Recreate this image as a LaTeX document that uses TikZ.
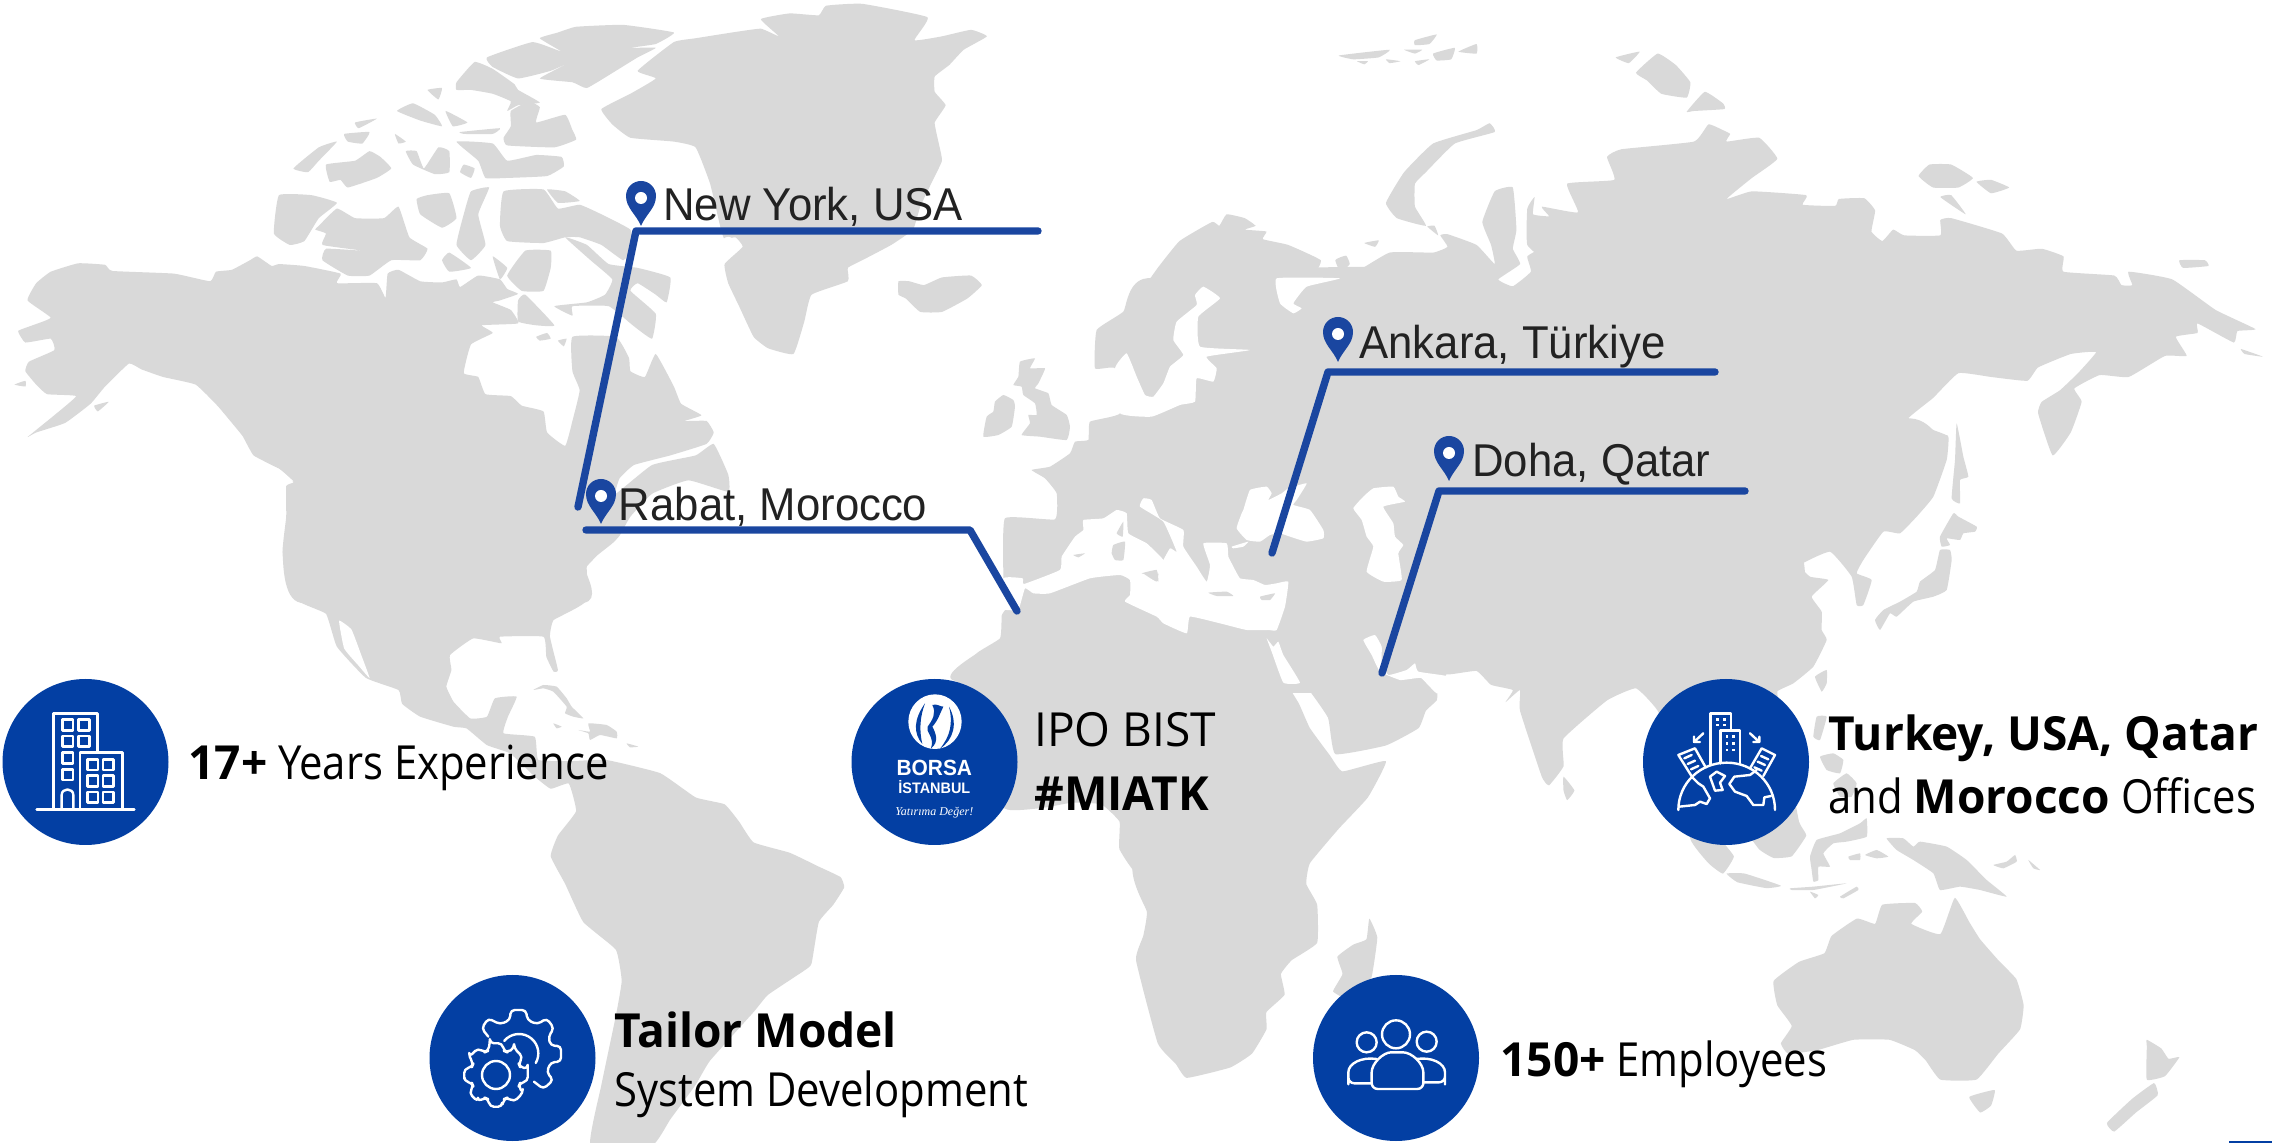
\documentclass[tikz,border=0pt]{standalone}
\usepackage{fontspec}
\setmainfont{Open Sans}
\newfontfamily\pinfont[FakeStretch=0.95]{Liberation Sans}
\newfontfamily\infofont[FakeStretch=0.89,BoldFeatures={FakeStretch=0.98}]{Open Sans}
\newfontfamily\capsfont[FakeStretch=0.98]{Open Sans}
\newfontfamily\logofont[FakeStretch=0.95]{Liberation Sans}
\newfontfamily\sloganfont{Liberation Serif}
\definecolor{landgray}{HTML}{D9D9D9}
\definecolor{discblue}{HTML}{033FA3}
\definecolor{lineblue}{HTML}{1A46A0}
\definecolor{labelink}{HTML}{222222}
\newcommand\landpoly[1]{\fill[land] plot[smooth cycle,tension=.22] coordinates {#1};}
\newcommand\seapoly[1]{\fill[sea] plot[smooth cycle,tension=.22] coordinates {#1};}
\tikzset{
  land/.style={fill=landgray},
  sea/.style={fill=white},
  fA/.style={xscale=.7246,yscale=.3827},
  fB/.style={shift={(1136,0)},xscale=.7246,yscale=.3827},
  fC/.style={shift={(0,600)},xscale=.7246,yscale=.3463},
  fD/.style={shift={(1136,600)},xscale=.7246,yscale=.3463},
  fE/.style={shift={(960,280)},scale=.33333},
  fF/.style={shift={(420,620)},scale=.33333},
  fG/.style={shift={(1700,420)},scale=.33333},
  route/.style={draw=lineblue,line width=3.7pt,line cap=round,line join=round},
  disc/.style={circle,fill=discblue,inner sep=0pt,minimum size=83pt},
  pinlabel/.style={anchor=base west,inner sep=0pt,text=labelink,font=\pinfont\fontsize{23}{23}\selectfont},
  info/.style={anchor=base west,inner sep=0pt,text=black,font=\infofont\fontsize{23.5}{23.5}\selectfont},
  icon/.style={draw=white,line width=1.2pt,line join=round,line cap=round},
  mappin/.pic={
    \fill[lineblue] (0,45) .. controls (-5,33) and (-15,27) .. (-15,15) .. controls (-15,6.7) and (-8.3,0) .. (0,0) .. controls (8.3,0) and (15,6.7) .. (15,15) .. controls (15,27) and (5,33) .. (0,45) -- cycle;
    \fill[white] (0,17) circle (6);
  }
}
\begin{document}
\begin{tikzpicture}[x=.5pt,y=-.5pt]
\path[use as bounding box,fill=white] (0,0) rectangle (2272,1143);
% ---------- land, frame of the north-west
\begin{scope}[fA]
\landpoly{(108,688)(145,692)(155,708)(240,715)(290,735)(298,710)(320,705)(345,680)(355,670)(375,695)(385,690)(420,695)(470,715)(465,740)(520,740)(532,778)(535,715)(550,705)(580,735)(610,738)(630,730)(635,750)(660,720)(690,730)(700,755)(715,768)(690,785)(680,790)(705,810)(715,845)(665,850)(680,870)(650,900)(640,975)(660,985)(670,1030)(705,1035)(720,1060)(750,1075)(755,1130)(780,1165)(790,1100)(800,1020)(790,970)(790,880)(850,880)(868,935)(870,970)(890,985)(905,925)(930,1010)(940,1055)(968,1085)(945,1100)(975,1100)(985,1130)(975,1160)(925,1190)(875,1215)(855,1250)(850,1290)(900,1215)(960,1190)(985,1160)(1005,1240)(1005,1285)(950,1255)(900,1290)(870,1350)(855,1400)(845,1420)(825,1450)(810,1480)(810,1500)(805,1575)(415,1575)(390,1450)(395,1350)(395,1270)(405,1260)(385,1225)(350,1190)(335,1140)(320,1105)(300,1060)(270,1005)(225,985)(195,965)(178,950)(145,1010)(125,1055)(90,1105)(50,1130)(38,1142)(75,1085)(105,1035)(65,1030)(50,1005)(35,970)(40,945)(75,915)(70,885)(35,895)(25,865)(45,850)(70,830)(38,785)(50,740)(70,710)}
% Greenland
\landpoly{(830,285)(870,245)(905,205)(880,185)(930,110)(960,100)(1010,85)(1050,75)(1075,95)(1050,50)(1090,35)(1130,40)(1140,15)(1190,10)(1280,45)(1262,105)(1300,95)(1340,78)(1362,95)(1330,130)(1310,170)(1290,200)(1290,240)(1305,275)(1290,320)(1295,370)(1300,420)(1285,480)(1270,540)(1260,600)(1230,640)(1190,680)(1170,700)(1170,735)(1120,770)(1110,840)(1095,925)(1060,910)(1040,880)(1020,800)(1005,740)(1000,690)(1025,645)(1015,620)(1000,625)(995,600)(980,480)(960,385)(930,370)(870,360)(845,325)}
% Arctic islands
\landpoly{(672,150)(735,110)(775,135)(745,100)(770,85)(795,70)(860,65)(930,85)(905,115)(870,125)(905,125)(880,150)(850,185)(810,230)(790,215)(745,205)(790,160)(760,185)(715,205)(680,175)}
\landpoly{(630,215)(655,162)(680,180)(710,220)(715,235)(745,268)(715,275)(700,290)(705,265)(680,245)(650,235)(630,235)}
\landpoly{(705,290)(730,265)(745,280)(740,320)(780,300)(790,340)(795,365)(765,385)(700,380)(695,360)(705,330)}
\landpoly{(590,235)(610,230)(605,260)}
\landpoly{(548,290)(570,270)(600,300)(610,330)(580,315)}
\landpoly{(615,290)(645,320)(625,330)}
\landpoly{(635,345)(690,335)(680,350)(640,350)}
\landpoly{(630,370)(680,375)(700,420)(740,405)(775,410)(778,435)(755,460)(700,465)(670,465)(660,420)}
\landpoly{(640,430)(655,440)(650,465)(635,450)}
\landpoly{(405,440)(440,385)(465,370)(440,420)(425,450)}
\landpoly{(450,430)(490,420)(510,395)(525,410)(540,440)(520,465)(480,490)(470,470)(455,475)}
\landpoly{(560,395)(575,395)(585,440)(605,385)(620,395)(620,450)(600,455)(570,430)}
\landpoly{(490,320)(520,310)(495,335)}
\landpoly{(475,350)(510,345)(500,375)(480,370)}
\landpoly{(545,350)(560,370)(550,375)}
\landpoly{(385,510)(430,510)(465,530)(440,570)(420,630)(400,640)(378,610)}
\landpoly{(440,590)(465,545)(490,570)(530,570)(550,540)(565,620)(590,650)(580,680)(540,680)(510,720)(480,720)(445,680)(450,650)(500,655)(445,640)(450,610)(435,600)}
\landpoly{(590,510)(620,505)(630,570)(610,595)(580,560)(575,520)}
\landpoly{(640,560)(650,500)(675,490)(660,560)(670,640)(650,680)(630,640)}
\landpoly{(690,590)(695,500)(750,495)(770,545)(800,535)(830,560)(870,600)(873,650)(860,680)(830,640)(800,620)(780,620)(750,635)(700,630)}
\landpoly{(755,495)(780,500)(800,525)(770,530)}
\landpoly{(610,680)(620,660)(650,700)(620,710)}
\landpoly{(725,655)(760,655)(760,700)(750,760)(720,760)(700,720)}
\landpoly{(680,670)(700,700)(690,730)}
\landpoly{(780,620)(810,640)(840,690)(880,700)(925,725)(920,790)(905,770)(880,740)(870,760)(905,820)(900,885)(880,860)(870,845)(840,800)(790,800)(790,825)(765,800)(810,790)(835,770)(845,730)(815,680)}
\landpoly{(715,785)(725,770)(765,850)(740,850)(715,840)}
\landpoly{(740,880)(755,870)(760,885)(745,890)}
\landpoly{(770,890)(782,885)(778,905)}
\landpoly{(20,1005)(35,995)(35,1010)}
\landpoly{(130,1060)(150,1050)(135,1075)}
\landpoly{(1240,735)(1255,735)(1275,745)(1300,725)(1340,720)(1355,745)(1335,780)(1300,815)(1270,815)(1250,780)(1240,770)}
\end{scope}
% ---------- the Americas, south
\begin{scope}[fC]
\landpoly{(415,-5)(450,40)(465,135)(505,225)(550,260)(555,300)(580,337)(626,366)(644,371)(672,419)(704,443)(738,510)(760,545)(785,530)(795,610)(770,680)(760,740)(780,820)(805,930)(850,1010)(858,1100)(850,1200)(830,1400)(815,1575)(900,1575)(925,1500)(960,1400)(980,1330)(1040,1190)(1060,1140)(1110,1070)(1120,1050)(1130,930)(1150,880)(1165,830)(1160,800)(1130,770)(1090,730)(1040,700)(1020,640)(1000,590)(960,570)(911,500)(837,462)(790,465)(743,462)(738,395)(695,385)(701,337)(713,279)(683,284)(672,337)(649,342)(626,294)(616,250)(623,202)(621,159)(653,111)(692,125)(690,106)(750,106)(754,164)(764,207)(770,202)(759,106)(764,58)(805,-5)}
\seapoly{(468,60)(485,85)(497,150)(510,225)(495,190)(475,140)}
\landpoly{(1320,235)(1310,300)(1300,500)(1390,605)(1440,600)(1480,585)(1520,590)(1545,640)(1545,720)(1575,790)(1575,230)}
\end{scope}
\begin{scope}[fF]
\landpoly{(340,210)(370,195)(410,200)(440,235)(455,260)(490,295)(460,290)(435,280)(440,260)(400,215)(370,205)}
\landpoly{(505,310)(560,315)(590,335)(590,355)(540,345)(510,360)(505,340)(475,330)(510,335)}
\landpoly{(400,310)(425,320)(410,325)}
\landpoly{(620,370)(655,380)(630,382)}
\end{scope}
% ---------- Eurasia, north
\begin{scope}[fB]
\landpoly{(0,780)(30,700)(60,630)(105,580)(115,590)(125,560)(150,570)(165,590)(150,600)(180,605)(175,625)(210,640)(255,680)(245,720)(225,735)(195,710)(180,710)(200,760)(200,810)(215,820)(240,790)(250,745)(285,735)(275,680)(290,668)(295,690)(285,710)(300,715)(350,660)(410,660)(430,645)(420,615)(430,612)(470,640)(495,690)(490,640)(478,580)(495,500)(520,490)(525,600)(520,650)(530,690)(500,730)(520,748)(545,710)(540,670)(560,650)(570,690)(540,640)(540,545)(550,515)(548,560)(570,565)(560,540)(610,555)(595,480)(660,470)(650,410)(670,390)(770,370)(790,325)(810,340)(820,350)(815,370)(860,360)(885,415)(850,465)(815,520)(850,500)(925,510)(920,535)(965,538)(970,520)(1005,518)(1020,550)(1015,605)(1030,630)(1045,600)(1060,615)(1110,615)(1110,575)(1125,570)(1195,610)(1215,655)(1250,650)(1280,670)(1280,710)(1350,720)(1360,745)(1375,745)(1370,710)(1430,730)(1490,810)(1545,860)(1520,865)(1515,895)(1465,845)(1465,870)(1435,880)(1450,930)(1420,930)(1370,985)(1330,980)(1295,1015)(1305,1050)(1290,1130)(1265,1190)(1245,1080)(1250,1050)(1275,1020)(1300,975)(1325,920)(1290,925)(1245,960)(1230,995)(1180,985)(1135,975)(1100,1040)(1065,1095)(1090,1130)(1120,1140)(1000,1200)(900,1300)(900,1570)(-5,1570)(-5,780)}
\landpoly{(280,145)(350,130)(335,150)(300,155)}
\landpoly{(370,130)(395,130)(385,140)}
\landpoly{(385,105)(415,90)(405,115)(385,118)}
\landpoly{(410,140)(440,125)(435,155)(415,158)}
\landpoly{(445,135)(470,115)(470,140)}
\landpoly{(345,155)(365,160)(350,165)}
\landpoly{(385,160)(405,155)(390,170)}
\landpoly{(305,160)(320,160)(315,168)}
\landpoly{(345,530)(370,450)(410,375)(470,340)(488,322)(495,345)(440,375)(400,450)(385,480)(385,540)(400,590)(360,570)}
\landpoly{(315,635)(335,628)(330,645)}
\landpoly{(402,592)(412,590)(417,615)}
\landpoly{(662,150)(695,135)(680,165)}
\landpoly{(690,190)(720,140)(745,170)(765,215)(760,255)(725,245)(705,210)}
\landpoly{(760,292)(785,240)(810,270)(812,285)(770,290)}
\landpoly{(1080,460)(1095,430)(1125,430)(1155,465)(1135,490)(1100,490)}
\landpoly{(1160,475)(1180,470)(1205,490)(1180,505)}
\landpoly{(1110,515)(1125,510)(1145,560)}
\landpoly{(1440,680)(1475,680)(1480,695)(1445,700)}
\landpoly{(1525,912)(1555,932)(1530,925)}
\end{scope}
% ---------- Europe
\begin{scope}[fE]
\landpoly{(560,-5)(490,95)(410,150)(405,265)(465,265)(480,400)(390,425)(385,480)(345,485)(330,520)(270,560)(215,570)(255,595)(290,640)(285,718)(135,715)(130,895)(125,1010)(120,1075)(50,1120)(0,1205)(1445,1205)(1445,-5)}
\landpoly{(70,470)(80,410)(100,395)(105,365)(130,345)(160,360)(165,380)(155,440)(115,465)}
\landpoly{(160,315)(175,290)(180,245)(225,235)(210,265)(255,265)(235,310)(225,325)(265,340)(275,375)(320,405)(330,440)(320,480)(240,470)(185,465)(210,430)(205,405)(230,405)(225,370)(190,345)(185,320)}
\end{scope}
% ---------- Asia south, Africa east, islands
\begin{scope}[fD]
\landpoly{(205,-5)(205,200)(235,250)(265,340)(275,445)(345,420)(390,370)(400,320)(415,290)(415,265)(390,220)(380,195)(430,215)(470,205)(490,245)(520,260)(510,295)(530,260)(530,320)(560,510)(570,535)(590,480)(590,400)(650,290)(690,255)(720,320)(760,500)(765,690)(790,760)(810,790)(825,740)(800,670)(830,640)(860,720)(880,745)(905,740)(925,680)(915,640)(900,470)(885,266)(900,100)(900,-5)}
\landpoly{(-5,780)(15,900)(10,970)(0,1040)(30,1280)(55,1340)(70,1380)(130,1350)(160,1310)(180,1240)(180,1190)(205,1140)(200,1080)(215,1040)(250,990)(250,880)(235,820)(240,760)(280,660)(320,570)(345,465)(285,495)(268,450)(240,370)(225,300)(205,230)(180,110)(-5,100)}
\landpoly{(590,510)(605,550)(595,578)(590,550)}
\landpoly{(322,920)(333,975)(325,1090)(310,1110)(290,1150)(272,1130)(285,1080)(278,1030)(300,995)(318,980)}
\landpoly{(815,790)(840,790)(890,825)(870,832)(830,815)}
\landpoly{(880,1100)(915,1045)(950,1020)(960,970)(995,920)(1020,935)(1030,880)(1075,875)(1085,900)(1070,935)(1110,965)(1130,860)(1150,930)(1165,980)(1190,1040)(1215,1095)(1225,1170)(1220,1240)(1190,1310)(1160,1385)(1110,1385)(1090,1330)(1075,1300)(1040,1270)(990,1270)(940,1300)(900,1310)(890,1280)(905,1230)(885,1170)}
\landpoly{(1150,1435)(1185,1415)(1180,1460)(1165,1480)}
\landpoly{(1395,1270)(1415,1295)(1425,1325)(1440,1320)(1420,1375)(1395,1385)(1395,1290)}
\landpoly{(1340,1510)(1375,1440)(1405,1395)(1410,1430)(1380,1480)(1350,1535)}
\end{scope}
% ---------- East Asia
\begin{scope}[fG]
\landpoly{(630,-5)(700,30)(745,50)(740,120)(700,230)(650,290)(600,340)(550,335)(490,420)(470,460)(515,480)(490,555)(470,555)(455,470)(390,395)(300,435)(330,470)(385,480)(335,530)(365,575)(365,630)(380,660)(340,740)(280,790)(230,815)(150,900)(100,1000)(-5,1000)(-5,-5)}
\landpoly{(770,10)(790,110)(805,170)(780,180)(780,250)(755,235)(765,120)}
\landpoly{(720,350)(760,280)(775,290)(830,320)(825,335)(790,340)(780,360)(740,355)(750,375)(725,380)}
\landpoly{(525,600)(550,570)(600,545)(650,515)(660,485)(705,450)(720,390)(750,390)(755,420)(740,510)(700,530)(640,545)(590,590)(570,580)(540,630)}
\landpoly{(345,770)(380,750)(380,790)(365,815)}
\landpoly{(350,890)(380,890)(360,960)(340,950)}
\landpoly{(360,1010)(400,1000)(430,1020)(420,1060)(380,1050)}
\landpoly{(400,1090)(440,1060)(470,1090)(455,1130)(420,1130)}
\landpoly{(330,1310)(350,1260)(420,1240)(480,1210)(500,1195)(500,1250)(440,1265)(400,1270)(370,1300)(390,1340)(355,1340)(355,1380)(340,1385)(335,1350)}
\landpoly{(560,1255)(610,1255)(640,1280)(660,1265)(740,1280)(800,1320)(860,1380)(920,1430)(840,1410)(780,1400)(720,1410)(700,1360)(640,1320)(590,1290)}
\landpoly{(445,1310)(480,1300)(480,1320)(450,1320)}
\landpoly{(495,1305)(530,1290)(565,1310)(530,1315)}
\landpoly{(880,1335)(920,1325)(945,1305)(950,1325)(910,1345)}
\landpoly{(985,1320)(1020,1350)(1000,1345)}
\landpoly{(270,1405)(340,1400)(440,1390)(340,1410)(275,1410)}
\landpoly{(420,1430)(470,1400)(475,1410)(430,1435)}
\landpoly{(330,1415)(355,1425)(345,1435)}
\end{scope}
% ---------- seas and gaps painted over the land
\begin{scope}[fA]
\seapoly{(315,1125)(328,1125)(330,1170)(320,1160)}
\seapoly{(350,1200)(385,1225)(405,1258)(385,1240)(355,1215)}
\fill[sea] (1005,635) ellipse (9 and 16);
\fill[sea] (808,722) ellipse (9 and 24);
\end{scope}
\begin{scope}[fE]
% Baltic
\seapoly{(465,265)(500,220)(530,290)(555,345)(580,350)(610,310)(630,260)(670,225)(640,180)(650,125)(710,75)(705,45)(730,20)(780,55)(715,110)(720,200)(870,210)(740,230)(770,265)(760,305)(710,295)(705,365)(660,375)(575,410)(480,400)}
% White Sea
\seapoly{(950,-5)(960,70)(1000,100)(1025,85)(1000,70)(1040,20)(1140,-5)}
% Mediterranean
\seapoly{(130,895)(188,895)(192,912)(300,870)(305,830)(345,770)(370,750)(370,720)(430,715)(470,690)(500,700)(505,760)(560,790)(610,840)(600,880)(550,880)(590,905)(600,860)(630,805)(650,815)(610,725)(540,680)(550,655)(575,660)(600,715)(670,750)(670,800)(710,860)(740,905)(750,855)(730,790)(800,790)(805,830)(815,850)(840,895)(880,900)(915,915)(950,910)(985,905)(975,980)(950,1050)(925,1050)(860,1050)(780,1030)(690,1010)(680,1060)(610,1030)(590,1010)(495,965)(510,945)(510,900)(480,885)(390,895)(270,940)(220,940)(195,925)(175,990)(135,990)(120,1010)}
\landpoly{(460,795)(495,785)(490,840)(465,840)(455,820)}
\landpoly{(470,760)(490,725)(488,770)}
\landpoly{(340,825)(375,820)(355,832)}
\landpoly{(545,880)(590,870)(595,905)(570,885)}
\landpoly{(745,938)(800,935)(820,948)(770,948)}
\landpoly{(900,950)(945,940)(930,960)(905,960)}
% Black Sea, Marmara, Caspian
\seapoly{(850,690)(870,630)(920,620)(935,640)(925,660)(965,640)(985,625)(1040,610)(1010,660)(1000,675)(1050,690)(1090,750)(1090,775)(1040,785)(990,770)(960,760)(930,765)(900,785)(860,780)(830,745)(845,700)}
\seapoly{(815,800)(865,785)(850,800)(820,805)}
\seapoly{(1180,685)(1210,650)(1240,625)(1300,620)(1315,650)(1335,665)(1270,680)(1300,730)(1305,770)(1330,795)(1315,820)(1325,900)(1270,905)(1220,875)(1240,800)(1220,770)(1205,720)}
% Red Sea and Gulf
\seapoly{(920,1075)(940,1100)(955,1085)(970,1125)(1020,1208)(970,1208)(935,1115)}
\seapoly{(1210,1080)(1245,1065)(1265,1100)(1265,1150)(1285,1185)(1340,1170)(1365,1150)(1375,1175)(1470,1190)(1470,1225)(1430,1240)(1385,1195)(1365,1195)(1320,1200)(1260,1175)(1235,1125)}
\end{scope}
% ---------- routes
\coordinate (nyfoot) at (578,507);
\coordinate (nybend) at (636,231);
\coordinate (nyend) at (1038,231);
\coordinate (rbfoot) at (1017,611);
\coordinate (rbbend) at (970,530);
\coordinate (rbend) at (586,530);
\coordinate (anfoot) at (1272,553);
\coordinate (anbend) at (1328,372);
\coordinate (anend) at (1715,372);
\coordinate (dofoot) at (1382,673);
\coordinate (dobend) at (1439,491);
\coordinate (doend) at (1745,491);
\draw[route] (nyfoot) -- (nybend) -- (nyend);
\draw[route] (rbfoot) -- (rbbend) -- (rbend);
\draw[route] (anfoot) -- (anbend) -- (anend);
\draw[route] (dofoot) -- (dobend) -- (doend);
% ---------- pins and labels
\pic at (641,181) {mappin};
\pic at (601,479) {mappin};
\pic at (1338,317) {mappin};
\pic at (1449,436) {mappin};
\node[pinlabel] (lny) at (663,221) {New York, USA};
\node[pinlabel] (lrb) at (618.5,521) {Rabat, Morocco};
\node[pinlabel] (lan) at (1359,359) {Ankara, Türkiye};
\node[pinlabel] (ldo) at (1472,477) {Doha, Qatar};
% ---------- discs
\node[disc] (dbuild) at (85.5,762) {};
\node[disc] (dborsa) at (934.5,762) {};
\node[disc] (dglobe) at (1726,762) {};
\node[disc] (dgear) at (512.5,1058) {};
\node[disc] (dpeople) at (1396,1058) {};
% building icon
\begin{scope}[shift={(0,670)},scale=.33333]
\draw[icon] (110,418) -- (403,418);
\draw[icon] (160,415) -- (160,130) -- (293,130) -- (293,245);
\draw[icon] (240,415) -- (240,248) -- (368,248) -- (368,415);
\foreach \p in {(203,165),(252,165),(203,214),(252,214),(203,264),(203,314),(278,284),(325,284),(278,333),(325,333),(278,382),(325,382)}
  \draw[icon] \p ++(-16,-16) rectangle ++(32,32);
\draw[icon] (185,415) -- (185,375) .. controls (185,353) and (220,353) .. (220,375) -- (220,415);
\end{scope}
% Borsa logo
\begin{scope}[shift={(845,670)},scale=.33333]
\fill[white] (270,155) ellipse (80 and 82);
\fill[discblue] (240,100) .. controls (205,150) and (205,190) .. (232,222) .. controls (222,180) and (225,140) .. (240,100) -- cycle;
\fill[discblue] (262,105) .. controls (275,130) and (262,150) .. (248,170) .. controls (240,185) and (270,200) .. (258,235) .. controls (285,215) and (270,185) .. (262,170) .. controls (280,150) and (285,130) .. (295,110) .. controls (285,110) and (275,100) .. (262,105) -- cycle;
\fill[discblue] (312,110) .. controls (325,160) and (315,200) .. (285,236) .. controls (325,210) and (340,160) .. (312,110) -- cycle;
\node[inner sep=0pt,text=white,font=\logofont\bfseries\fontsize{11}{11}\selectfont] (tborsa) at (268,295) {BORSA};
\node[inner sep=0pt,text=white,font=\logofont\bfseries\fontsize{7.6}{7.6}\selectfont] (tist) at (268,352) {İSTANBUL};
\node[inner sep=0pt,text=white,font=\sloganfont\itshape\fontsize{6}{6}\selectfont] (tval) at (268,427) {Yatırıma Değer!};
\end{scope}
% globe icon
\begin{scope}[shift={(1635,670)},scale=.33333]
\draw[icon] (130,420) .. controls (130,340) and (195,278) .. (275,278) .. controls (355,278) and (420,340) .. (420,420);
\draw[icon] (133,410) -- (180,405) -- (195,395) -- (215,402) -- (225,385) -- (205,350) -- (190,340) -- (172,322);
\draw[icon] (225,320) -- (245,305) -- (270,318) -- (255,338) -- (263,360) -- (240,362) -- cycle;
\draw[icon] (408,378) -- (388,382) -- (385,405) -- (355,405) -- (335,378) -- (300,365) -- (283,342) -- (298,320) -- (345,315) -- (365,300);
\draw[icon] (227,285) -- (227,130) -- (288,130) -- (288,180);
\draw[icon] (257,280) -- (257,182) -- (315,182) -- (315,280);
\foreach \p in {(248,148),(268,148),(248,165),(268,165),(276,200),(296,200),(276,220),(296,220),(276,240),(296,240)}
  \fill[white] \p ++(-4,-4) rectangle ++(8,8);
\draw[icon] (172,322) -- (130,255) -- (180,235) -- (212,292);
\draw[icon] (148,265) -- (170,255) (158,282) -- (180,272) (168,298) -- (190,288);
\draw[icon] (345,295) -- (380,235) -- (420,255) -- (385,318);
\draw[icon] (378,258) -- (400,268) (368,275) -- (390,285) (358,292) -- (380,302);
\draw[icon] (205,190) -- (177,216) (177,200) -- (177,216) -- (195,216);
\draw[icon] (345,190) -- (373,216) (373,200) -- (373,216) -- (355,216);
\end{scope}
% gears icon
\begin{scope}[shift={(420,965)},scale=.33333]
\draw[icon,rounded corners=2pt] (205,215) -- (185,190) -- (205,160) -- (240,178) -- (270,165) -- (272,135) -- (318,135) -- (322,165) -- (352,178) -- (380,160) -- (402,190) -- (385,215) -- (392,242) -- (423,243) -- (423,290) -- (392,292) -- (380,322) -- (400,345) -- (370,372) -- (342,350);
\draw[icon] (297,265) ++(-140:58) arc[start angle=-140,end angle=30,radius=58];
\draw[icon] (228,330) circle (42);
\begin{scope}[shift={(228,330)}]
\draw[icon,rounded corners=2pt] (-101:97)
  \foreach \a in {0,45,...,315} { -- (\a-101:97) -- (\a-79:97) -- (\a-72:76) -- (\a-63:76) -- (\a-56:97) } -- cycle;
\end{scope}
\end{scope}
% people icon
\begin{scope}[shift={(1305,965)},scale=.33333]
\draw[icon] (273,208) circle (42);
\draw[icon] (185,232) circle (30);
\draw[icon] (365,230) circle (30);
\draw[icon,rounded corners=3pt] (200,372) -- (200,340) .. controls (200,295) and (235,262) .. (276,262) .. controls (320,262) and (355,295) .. (355,340) -- (355,372) -- cycle;
\draw[icon,rounded corners=3pt] (215,282) .. controls (170,275) and (130,295) .. (130,340) -- (130,355) -- (197,355);
\draw[icon,rounded corners=3pt] (335,282) .. controls (380,275) and (420,295) .. (420,340) -- (420,352) -- (358,352);
\end{scope}
% ---------- texts
\node[info] (t1) at (188,780) {\textbf{17+} Years Experience};
\node[info] (t2a) at (1034,747) {\capsfont IPO BIST};
\node[info] (t2b) at (1034,811) {\textbf{\#MIATK}};
\node[info] (t3a) at (1828,751) {\textbf{Turkey, USA, Qatar}};
\node[info] (t3b) at (1828,814) {and \textbf{Morocco} Offices};
\node[info] (t4a) at (614,1048) {\textbf{Tailor Model}};
\node[info] (t4b) at (614,1106) {System Development};
\node[info] (t5) at (1500,1077) {\textbf{150+} Employees};
% small mark on the lower edge
\fill[discblue] (2229,1141) rectangle (2272,1143);
\end{tikzpicture}
\end{document}
